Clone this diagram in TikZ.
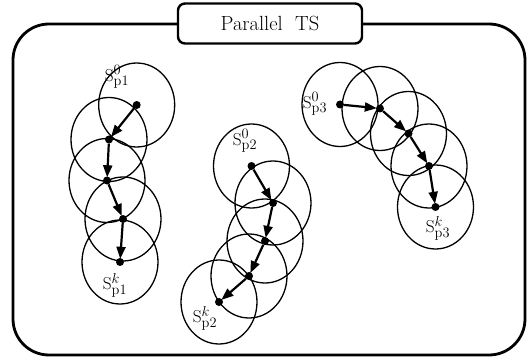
\documentclass[tikz,border=0pt]{standalone}
\usetikzlibrary{arrows.meta}
\begin{document}
\begin{tikzpicture}[x=1pt,y=-1pt,
  frame/.style={draw,line width=2.8pt,rounded corners=36pt},
  titlebox/.style={draw,fill=white,line width=2.4pt,rounded corners=7pt,minimum width=184pt,minimum height=40pt,inner sep=0pt,font=\fontsize{20.5}{24}\selectfont},
  zone/.style={draw,line width=1.3pt,x radius=38pt,y radius=42pt},
  dot/.style={circle,fill,inner sep=0pt,minimum size=8pt},
  arr/.style={line width=2.2pt,-{Triangle[length=12pt,width=9pt]},shorten >=-1pt},
  lab/.style={font=\fontsize{19}{22}\selectfont,inner sep=0pt}]
\useasboundingbox (0,0) rectangle (528,361);
% outer frame
\draw[frame] (13,24) rectangle (525,355);
\node[titlebox] (title) at (270,23.5) {Parallel\ \ TS};
% group 1
\foreach \n/\p in {a0/{(136.7,105)},a1/{(109,139.5)},a2/{(107,180.5)},a3/{(123,219)},a4/{(120,262)}}{
  \node[dot] (\n) at \p {};
  \draw[zone] \p ellipse [];
}
% group 2
\foreach \n/\p in {b0/{(251.5,166)},b1/{(273,203)},b2/{(265,241)},b3/{(249,276)},b4/{(219,302)}}{
  \node[dot] (\n) at \p {};
  \draw[zone] \p ellipse [];
}
% group 3
\foreach \n/\p in {c0/{(340,104.5)},c1/{(380,108.5)},c2/{(408.5,133.5)},c3/{(429,166)},c4/{(435.5,207)}}{
  \node[dot] (\n) at \p {};
  \draw[zone] \p ellipse [];
}
\draw[arr] (a0) -- (a1);
\draw[arr] (a1) -- (a2);
\draw[arr] (a2) -- (a3);
\draw[arr] (a3) -- (a4);
\draw[arr] (b0) -- (b1);
\draw[arr] (b1) -- (b2);
\draw[arr] (b2) -- (b3);
\draw[arr] (b3) -- (b4);
\draw[arr] (c0) -- (c1);
\draw[arr] (c1) -- (c2);
\draw[arr] (c2) -- (c3);
\draw[arr] (c3) -- (c4);
% labels
\node[lab] (la0) at (117,77) {$\mathrm{S}^{0}_{\mathrm{p1}}$};
\node[lab] (la4) at (115,285) {$\mathrm{S}^{k}_{\mathrm{p1}}$};
\node[lab] (lb0) at (245,141) {$\mathrm{S}^{0}_{\mathrm{p2}}$};
\node[lab] (lb4) at (205,318) {$\mathrm{S}^{k}_{\mathrm{p2}}$};
\node[lab] (lc0) at (315,104) {$\mathrm{S}^{0}_{\mathrm{p3}}$};
\node[lab] (lc4) at (438,228) {$\mathrm{S}^{k}_{\mathrm{p3}}$};
\end{tikzpicture}
\end{document}
